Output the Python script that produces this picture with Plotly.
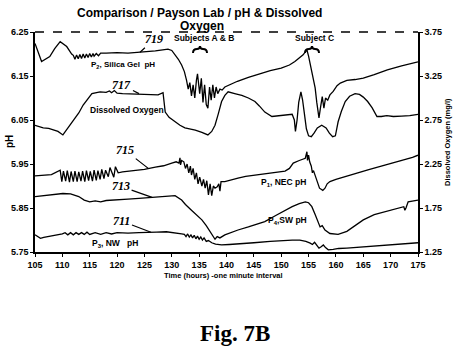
import plotly.graph_objects as go

# ---------------- data ----------------
t_silica = [105, 106.2, 107.7, 108.6, 109.6, 110.8, 111.7,
            112.0, 112.3, 112.6, 112.9, 113.2, 113.5, 113.8, 114.1, 114.4, 114.7, 115.0, 115.3, 115.6, 115.8, 116.2, 116.6, 117,
            118, 120, 122, 124, 126, 127, 128, 129.3, 130.0, 130.6, 131.2, 131.8, 132.3, 132.7,
            133.0, 133.3, 133.6, 133.9, 134.2, 134.5, 134.7, 135.1, 135.4, 135.7, 136.0, 136.3, 136.6, 136.9, 137.2, 137.5, 137.8, 138.1, 138.4, 138.8, 139.2, 139.7,
            140.5, 142, 144, 146, 148, 150, 151.5, 152.5, 153.5, 154.0, 154.4, 154.7, 155.0, 155.3, 155.6, 155.9, 156.2, 156.5, 156.9,
            157.2, 157.5, 157.8, 158.1, 158.5, 158.9, 159.5, 160.2, 160.8, 162, 163.5, 165, 167, 169.4, 172, 175]
ph_silica = [6.224, 6.183, 6.194, 6.212, 6.228, 6.217, 6.200,
             6.197, 6.188, 6.198, 6.189, 6.199, 6.190, 6.200, 6.191, 6.200, 6.192, 6.201, 6.193, 6.201, 6.195, 6.201, 6.196, 6.202,
             6.202, 6.203, 6.202, 6.204, 6.205, 6.207, 6.209, 6.211, 6.208, 6.198, 6.188, 6.175, 6.160, 6.140,
             6.120, 6.135, 6.105, 6.130, 6.100, 6.140, 6.155, 6.110, 6.145, 6.090, 6.130, 6.085, 6.077, 6.125, 6.095, 6.130, 6.100, 6.125, 6.110, 6.120, 6.118, 6.125,
             6.130, 6.138, 6.147, 6.155, 6.162, 6.168, 6.175, 6.183, 6.192, 6.198, 6.205, 6.209, 6.195, 6.175, 6.160, 6.140, 6.123, 6.090, 6.055,
             6.080, 6.103, 6.077, 6.100, 6.095, 6.107, 6.115, 6.128, 6.134, 6.140, 6.142, 6.145, 6.153, 6.164, 6.173, 6.182]

t_do = [105, 106.5, 107.5, 108.3, 109.2, 110.1, 110.8, 112, 113, 113.8, 114.6, 115.4, 116.9, 118, 118.6, 119.0, 119.5, 120,
        121, 123, 125, 126.6, 127.5, 128.4, 128.6, 128.8, 129.5, 130.6, 131.5, 132.4, 134.3, 135.5, 136.6, 137.3, 137.9, 138.5,
        139.1, 139.7, 140.3, 141.5, 142.8, 144, 145.2, 146, 147, 148.3, 149.5, 150.7, 152, 152.4, 152.6, 152.9, 153.2, 153.6,
        153.9, 154.2, 154.6, 155.0, 155.5, 156.0, 156.6, 157.4, 158.2, 158.8, 159.4, 159.9, 160.4, 161, 161.7, 162.5, 163.5,
        164.3, 165, 165.8, 166.6, 167.5, 168.3, 169.3, 170.5, 172, 173.5, 175]
do_vals = [2.69, 2.66, 2.655, 2.636, 2.62, 2.58, 2.64, 2.73, 2.83, 2.92, 2.99, 3.05, 3.07, 3.065, 3.08, 3.06, 3.085, 3.055,
           3.05, 3.045, 3.045, 3.04, 3.035, 3.06, 2.95, 2.84, 2.78, 2.73, 2.69, 2.66, 2.636, 2.61, 2.58, 2.62, 2.69, 2.82,
           2.96, 3.03, 3.07, 3.05, 3.03, 3.00, 2.96, 2.91, 2.84, 2.79, 2.80, 2.81, 2.815, 2.75, 2.62, 2.75, 2.95, 3.07,
           2.98, 2.84, 2.65, 2.57, 2.56, 2.60, 2.66, 2.69, 2.66, 2.60, 2.56, 2.57, 2.73, 2.85, 2.96, 3.02, 3.05,
           3.04, 3.01, 2.96, 2.89, 2.79, 2.79, 2.80, 2.79, 2.795, 2.80, 2.815]

t_nec = [105, 106.5, 108, 109.6, 109.9, 110.2, 110.6, 110.9, 111.3, 111.6, 112.0, 112.3, 112.7, 113.0, 113.4, 113.7, 114.1,
         114.4, 114.8, 115.1, 115.5, 115.8, 116.2, 116.5, 116.9, 117.2, 117.6, 117.9, 118.4, 118.7, 119.4, 119.7, 120.2,
         121, 123, 125, 127, 128.5, 130, 130.8, 131.3, 131.5, 131.6, 131.8, 132.2, 132.5, 132.8, 133.1, 133.4, 133.6, 133.9,
         134.2, 134.5, 134.8, 135.1, 135.5, 135.8, 136.1, 136.4, 136.7, 137.0, 137.3, 137.6, 137.9, 138.3, 138.6, 138.8, 139.0,
         139.7, 141, 142.1, 143.5, 145.2, 147, 149, 150.7, 151.5, 152.2, 153.3, 154.4, 154.7, 154.8, 155.0, 155.2, 155.5,
         155.7, 155.9, 156.2, 156.6, 157.0, 157.6, 158.0, 158.4, 158.9, 160, 162, 164, 166, 168.1, 170, 172, 174, 175]
ph_nec = [5.923, 5.925, 5.926, 5.936, 5.910, 5.934, 5.911, 5.935, 5.909, 5.933, 5.910, 5.934, 5.910, 5.932, 5.911, 5.934, 5.910,
          5.935, 5.912, 5.933, 5.911, 5.936, 5.913, 5.935, 5.915, 5.938, 5.917, 5.936, 5.921, 5.942, 5.920, 5.944, 5.930,
          5.932, 5.935, 5.938, 5.943, 5.946, 5.952, 5.955, 5.952, 5.964, 5.948, 5.958, 5.955, 5.940, 5.950, 5.930, 5.945, 5.925, 5.940,
          5.915, 5.930, 5.905, 5.920, 5.900, 5.915, 5.895, 5.912, 5.880, 5.905, 5.878, 5.900, 5.895, 5.898, 5.905, 5.888, 5.910,
          5.910, 5.915, 5.918, 5.922, 5.925, 5.928, 5.931, 5.934, 5.940, 5.952, 5.958, 5.963, 5.978, 5.958, 5.970, 5.955, 5.945,
          5.930, 5.935, 5.925, 5.910, 5.895, 5.890, 5.895, 5.905, 5.910, 5.915, 5.923, 5.930, 5.937, 5.944, 5.950, 5.958, 5.965, 5.970]

t_sw = [105, 106.5, 108, 110.1, 111.5, 113, 114, 115, 116, 117, 118, 119.9, 122, 124, 126, 127.2, 128.5, 130, 130.6, 131.8,
        132.5, 133.6, 134.5, 135.5, 136.3, 137, 137.5, 137.9, 138.3, 138.8, 139.7, 140.5, 142.1, 144, 145.5, 147, 149, 150.7,
        152, 153.3, 154.4, 155, 155.6, 156.2, 156.7, 157.1, 157.5, 158, 158.9, 160.4, 162, 163.5, 165, 167, 169.9, 171.5,
        172.4, 172.6, 172.8, 173.2, 174, 175]
ph_sw = [5.876, 5.878, 5.880, 5.883, 5.882, 5.876, 5.868, 5.864, 5.866, 5.864, 5.867, 5.868, 5.870, 5.872, 5.874, 5.876, 5.877, 5.879, 5.878, 5.868,
         5.858, 5.845, 5.835, 5.823, 5.810, 5.795, 5.785, 5.779, 5.785, 5.782, 5.789, 5.793, 5.800, 5.807, 5.813, 5.819, 5.833, 5.845,
         5.853, 5.860, 5.864, 5.862, 5.853, 5.835, 5.820, 5.807, 5.810, 5.800, 5.792, 5.790, 5.797, 5.810, 5.823, 5.835, 5.845, 5.850,
         5.853, 5.845, 5.850, 5.864, 5.866, 5.868]

t_nw = [105, 105.6, 106, 106.6, 107.5, 108.5, 110, 110.5, 111, 111.5, 112, 112.5, 113, 113.5, 114, 114.5, 115, 116, 117, 118, 119,
        120, 122, 124, 126, 127.2, 129, 130.6, 131.8, 132.3, 132.6, 132.9, 133.2, 133.5, 133.8, 134.1, 134.4, 134.7, 135.0, 135.3,
        135.6, 135.9, 136.3, 136.7, 137.3, 138, 139.1, 140.5, 142.1, 145, 148, 150.7, 152, 153.4, 154.5, 155.3, 155.7, 156.1,
        156.5, 156.9, 157.3, 157.7, 158.1, 158.6, 159.5, 160.5, 162, 165, 168, 171, 175]
ph_nw = [5.789, 5.784, 5.781, 5.783, 5.785, 5.788, 5.791, 5.794, 5.789, 5.794, 5.789, 5.794, 5.790, 5.794, 5.790, 5.795, 5.790, 5.794, 5.790, 5.794, 5.791,
         5.794, 5.793, 5.794, 5.794, 5.795, 5.796, 5.794, 5.791, 5.790, 5.785, 5.791, 5.784, 5.789, 5.782, 5.788, 5.780, 5.786, 5.779, 5.784,
         5.777, 5.782, 5.774, 5.776, 5.771, 5.768, 5.766, 5.767, 5.768, 5.771, 5.774, 5.777, 5.777, 5.777, 5.774, 5.770, 5.767, 5.772,
         5.764, 5.759, 5.762, 5.766, 5.760, 5.755, 5.756, 5.758, 5.759, 5.762, 5.765, 5.768, 5.771]

x_ticks = [105, 110, 115, 120, 125, 130, 135, 140, 145, 150, 155, 160, 165, 170, 175]
ph_ticks = [5.75, 5.85, 5.95, 6.05, 6.15, 6.25]
do_ticks = [1.25, 1.75, 2.25, 2.75, 3.25, 3.75]

# ---------------- figure ----------------
LW = 1.3
fig = go.Figure()
line = dict(color="black", width=LW)
fig.add_trace(go.Scatter(x=t_silica, y=ph_silica, mode="lines", line=line, yaxis="y"))
fig.add_trace(go.Scatter(x=t_do, y=do_vals, mode="lines", line=line, yaxis="y2"))
fig.add_trace(go.Scatter(x=t_nec, y=ph_nec, mode="lines", line=line, yaxis="y"))
fig.add_trace(go.Scatter(x=t_sw, y=ph_sw, mode="lines", line=line, yaxis="y"))
fig.add_trace(go.Scatter(x=t_nw, y=ph_nw, mode="lines", line=line, yaxis="y"))

SANS = "Liberation Sans, Arial, sans-serif"
SERIF = "Liberation Serif, Times New Roman, serif"
tickfont = dict(family=SANS, size=9, color="black", weight="bold")

fig.update_layout(
    width=455, height=347,
    margin=dict(l=35, r=37, t=32, b=95),
    paper_bgcolor="white", plot_bgcolor="white",
    showlegend=False,
    xaxis=dict(range=[105, 175], tickvals=x_ticks, ticktext=[str(v) for v in x_ticks],
               showgrid=False, zeroline=False, showline=True, linecolor="black", linewidth=1.5,
               ticks="outside", ticklen=3, tickcolor="black", tickfont=tickfont),
    yaxis=dict(range=[5.75, 6.25], tickvals=ph_ticks, ticktext=["%.2f" % v for v in ph_ticks],
               showgrid=False, zeroline=False, showline=True, linecolor="black", linewidth=1.5,
               ticks="outside", ticklen=3, tickcolor="black", tickfont=tickfont),
    yaxis2=dict(range=[1.25, 3.75], tickvals=do_ticks, ticktext=["%.2f" % v for v in do_ticks],
                overlaying="y", side="right",
                showgrid=False, zeroline=False, showline=True, linecolor="black", linewidth=1.5,
                ticks="outside", ticklen=3, tickcolor="black", tickfont=tickfont),
)

# dashed top frame
fig.add_shape(type="line", xref="paper", yref="paper", x0=0, x1=1, y0=1, y1=1,
              line=dict(color="black", width=1.3, dash="dash"))

def px2paper(px, py):
    return (px - 35) / 383.0, (252 - py) / 220.0

def label(text, px, py, size=8, family=SANS, bold=True, italic=False, angle=0):
    x, y = px2paper(px, py)
    fig.add_annotation(text=text, x=x, y=y, xref="paper", yref="paper", showarrow=False,
                       xanchor="center", yanchor="middle", textangle=angle,
                       font=dict(family=family, size=size, color="black",
                                 weight="bold" if bold else "normal",
                                 style="italic" if italic else "normal"))

def brace(cx, top):
    # small overhead curly brace, drawn in paper coordinates
    pts = [(cx - 7, top + 7), (cx - 7, top + 3), (cx - 3, top + 3), (cx, top + 3), (cx, top),
           (cx, top + 3), (cx + 3, top + 3), (cx + 7, top + 3), (cx + 7, top + 7)]
    p = [px2paper(a, b) for a, b in pts]
    path = "M {0},{1} Q {2},{3} {4},{5} Q {6},{7} {8},{9} Q {10},{11} {12},{13} Q {14},{15} {16},{17}".format(
        p[0][0], p[0][1], p[1][0], p[1][1], p[2][0], p[2][1], p[3][0], p[3][1], p[4][0], p[4][1],
        p[5][0], p[5][1], p[6][0], p[6][1], p[7][0], p[7][1], p[8][0], p[8][1])
    fig.add_shape(type="path", xref="paper", yref="paper", path=path,
                  line=dict(color="black", width=2))

label("Comparison / Payson Lab / pH &amp; Dissolved", 199.5, 12.5, size=12)
label("Oxygen", 202, 25.5, size=12)
label("Time (hours) -one minute interval", 223, 275, size=7.5)
label("Fig. 7B", 235, 333, size=23, family=SERIF)
label("pH", 9, 141, size=10, angle=-90)
label("Dissolved Oxygen (mg/l)", 447, 142, size=7.5, angle=-90)

label("P<sub>2</sub>, Silica Gel  pH", 123, 65, size=8)
label("Dissolved Oxygen", 127, 110, size=8.5)
label("P<sub>1</sub>, NEC pH", 283, 182, size=8.5)
label("P<sub>4</sub>,SW pH", 287, 220, size=8.5)
label("P<sub>3</sub>, NW   pH", 115, 243, size=8.5)
label("Subjects A &amp; B", 204, 38, size=8.5)
label("Subject C", 314, 38, size=8.5)
brace(200, 46)
brace(312, 46)

# reference numerals with leader lines
def numeral(text, x, y, ax, ay, yref="y"):
    fig.add_annotation(text=text, x=x, y=y, xref="x", yref=yref, ax=ax, ay=ay,
                       showarrow=True, arrowhead=0, arrowwidth=1.2, arrowcolor="black",
                       font=dict(family=SERIF, size=12, color="black", weight="bold", style="italic"))

numeral("719", 124.2, 6.204, 14, -13)
numeral("717", 124.0, 3.05, -17, -9, yref="y2")
numeral("715", 125.7, 5.940, -23, -18)
numeral("713", 126.4, 5.874, -31, -11)
numeral("711", 126.2, 5.795, -29, -11)

fig.write_html("out.html")
